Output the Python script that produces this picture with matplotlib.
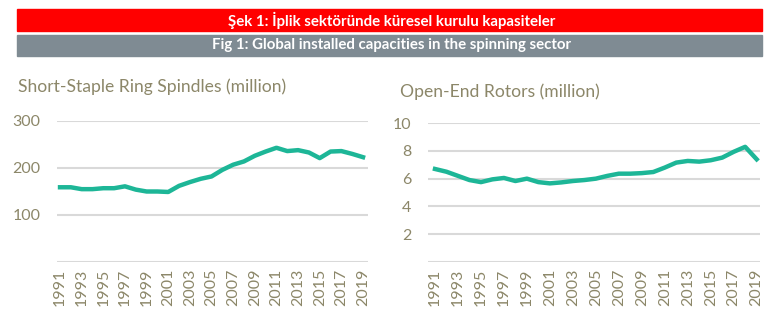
import numpy as np
import matplotlib
matplotlib.use("Agg")
from matplotlib import pyplot as plt
from matplotlib.patches import Rectangle

years = list(range(1991, 2020))
spindles = [159, 159, 155, 155, 157, 157, 161, 154, 150, 150,
            149, 162, 170, 177, 182, 196, 207, 214, 226, 235,
            243, 236, 238, 233, 221, 235, 236, 230, 223]
rotors = [6.7, 6.5, 6.2, 5.9, 5.75, 5.95, 6.05, 5.83, 6.0, 5.75,
          5.66, 5.73, 5.83, 5.9, 6.0, 6.2, 6.36, 6.36, 6.4, 6.48,
          6.8, 7.16, 7.28, 7.23, 7.33, 7.52, 7.94, 8.3, 7.4]

title_tr = "Şek 1: İplik sektöründe küresel kurulu kapasiteler"
title_en = "Fig 1: Global installed capacities in the spinning sector"
left_title = "Short-Staple Ring Spindles (million)"
right_title = "Open-End Rotors (million)"

line_col = "#1db697"
text_col = "#8c8769"
grid_col = "#d9d9d9"

fig = plt.figure(figsize=(7.83, 3.27), dpi=100)

# header bars
fig.patches.append(Rectangle((17/783, 1 - 31/327), 745/783, 22/327,
                             transform=fig.transFigure, color="#ff0000"))
fig.patches.append(Rectangle((17/783, 1 - 56/327), 745/783, 21/327,
                             transform=fig.transFigure, color="#7f8b93"))
fig.text(0.5, 1 - 20/327, title_tr, ha="center", va="center", color="white",
         fontsize=10.8, fontweight="bold", family="Lato")
fig.text(0.5, 1 - 45.5/327, title_en, ha="center", va="center", color="white",
         fontsize=10.8, fontweight="bold", family="Lato")


def panel(rect, data, ylim, yticks, xlim, title, title_xy):
    ax = fig.add_axes(rect)
    ax.plot(years, data, color=line_col, lw=3.2, clip_on=False,
            solid_joinstyle="round")
    ax.set_ylim(*ylim)
    ax.set_xlim(*xlim)
    ax.set_yticks(yticks)
    ax.set_xticks(years[::2])
    ax.set_xticklabels([str(y) for y in years[::2]], rotation=90)
    ax.grid(axis="y", color=grid_col, lw=1.5)
    ax.axhline(0, color=grid_col, lw=1.5)
    ax.set_axisbelow(True)
    for s in ax.spines.values():
        s.set_visible(False)
    ax.tick_params(length=0, colors=text_col, labelsize=11.5)
    ax.tick_params(axis="y", pad=12)
    ax.tick_params(axis="x", pad=5)
    for lab in ax.get_xticklabels() + ax.get_yticklabels():
        lab.set_family("Lato")
    fig.text(title_xy[0] / 783, 1 - title_xy[1] / 327, title, color=text_col,
             fontsize=12.6, family="Lato", va="center", ha="left")
    return ax


panel([57/783, 65/327, 311/783, 141/327], spindles, (0, 300), [100, 200, 300],
      (1990.72, 2019.46), left_title, (18, 87))
panel([428/783, 65.3/327, 332/783, 138.4/327], rotors, (0, 10), [2, 4, 6, 8, 10],
      (1990.39, 2019.29), right_title, (400, 92))

fig.savefig("out.png", dpi=100)
